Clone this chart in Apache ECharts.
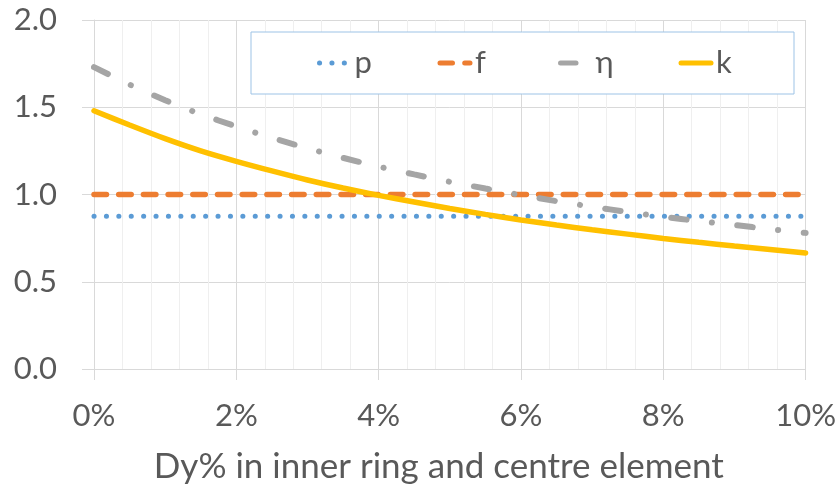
<!DOCTYPE html>
<html>
<head>
<meta charset="utf-8">
<script src="https://cdn.jsdelivr.net/npm/echarts@6/dist/echarts.min.js"></script>
<style>
html,body{margin:0;padding:0;background:#fff;}
#chart{width:839px;height:489px;}
</style>
</head>
<body>
<div id="chart"></div>
<script>
var xValues = [0, 0.005, 0.01, 0.015, 0.02, 0.025, 0.03, 0.035, 0.04, 0.045, 0.05, 0.055, 0.06, 0.065, 0.07, 0.075, 0.08, 0.085, 0.09, 0.095, 0.1];
var pValues = [0.875, 0.875, 0.875, 0.875, 0.875, 0.875, 0.875, 0.875, 0.875, 0.875, 0.875, 0.875, 0.875, 0.875, 0.875, 0.875, 0.875, 0.875, 0.875, 0.875, 0.875];
var fValues = [1, 1, 1, 1, 1, 1, 1, 1, 1, 1, 1, 1, 1, 1, 1, 1, 1, 1, 1, 1, 1];
var etaValues = [1.73, 1.63, 1.54, 1.46, 1.39, 1.325, 1.265, 1.21, 1.16, 1.115, 1.073, 1.034, 0.997, 0.962, 0.93, 0.90, 0.872, 0.848, 0.825, 0.802, 0.78];
var kValues = [1.48, 1.398, 1.32, 1.25, 1.19, 1.135, 1.083, 1.037, 0.995, 0.957, 0.92, 0.886, 0.854, 0.825, 0.798, 0.773, 0.748, 0.726, 0.705, 0.685, 0.665];
var seriesNames = ['p', 'f', 'η', 'k'];
var xTitle = 'Dy% in inner ring and centre element';

function pairs(ys) { return xValues.map(function (x, i) { return [x, ys[i]]; }); }

var FONT = 'Lato';
var TXT = '#595959';
var chart = echarts.init(document.getElementById('chart'), null, {renderer: 'canvas'});
chart.setOption({
  animation: false,
  backgroundColor: '#ffffff',
  grid: {left: 94, right: 33, top: 20, bottom: 114, containLabel: false},
  legend: {
    data: seriesNames,
    left: 251, top: 32,
    padding: [13, 0, 13, 66],
    borderColor: '#9DC3E6', borderWidth: 1, backgroundColor: '#ffffff',
    itemWidth: 30, itemHeight: 10, itemGap: 5,
    itemStyle: {color: 'rgba(0,0,0,0)', borderWidth: 0, opacity: 0},
    lineStyle: {width: 5, cap: 'round'},
    textStyle: {fontFamily: FONT, fontSize: 31, color: TXT, width: 78, lineHeight: 36}
  },
  xAxis: {
    type: 'value', min: 0, max: 0.1, interval: 0.02,
    name: xTitle, nameLocation: 'middle', nameGap: 80,
    nameTextStyle: {fontFamily: FONT, fontSize: 35, color: TXT, padding: [0, 22, 0, 0]},
    axisLine: {show: true, lineStyle: {color: '#D9D9D9', width: 1}},
    axisTick: {show: true, length: 11, lineStyle: {color: '#D9D9D9'}},
    axisLabel: {fontFamily: FONT, fontSize: 31, color: TXT, margin: 31,
      formatter: function (v) { return Math.round(v * 100) + '%'; }},
    splitLine: {show: true, lineStyle: {color: '#D9D9D9', width: 1}},
    minorTick: {show: false, splitNumber: 5},
    minorSplitLine: {show: true, lineStyle: {color: '#EFEFEF', width: 1}}
  },
  yAxis: {
    type: 'value', min: 0, max: 2, interval: 0.5,
    axisLine: {show: true, lineStyle: {color: '#D9D9D9', width: 1}},
    axisTick: {show: true, length: 12, lineStyle: {color: '#D9D9D9'}},
    axisLabel: {fontFamily: FONT, fontSize: 31, color: TXT, margin: 37,
      formatter: function (v) { return v.toFixed(1); }},
    splitLine: {show: true, lineStyle: {color: '#D9D9D9', width: 1}}
  },
  series: [
    {name: 'p', type: 'line', data: pairs(pValues), symbol: 'none', smooth: false,
      lineStyle: {color: '#5B9BD5', width: 5, type: [0.1, 12.3], cap: 'round'},
      itemStyle: {color: '#5B9BD5'}},
    {name: 'f', type: 'line', data: pairs(fValues), symbol: 'none', smooth: false,
      lineStyle: {color: '#ED7D31', width: 5.5, type: [12.5, 12.2], cap: 'round'},
      itemStyle: {color: '#ED7D31'}},
    {name: 'η', type: 'line', data: pairs(etaValues), symbol: 'none', smooth: 0.3,
      lineStyle: {color: '#A5A5A5', width: 6, type: [15.5, 25.5, 0.1, 25.5], cap: 'round'},
      itemStyle: {color: '#A5A5A5'}},
    {name: 'k', type: 'line', data: pairs(kValues), symbol: 'none', smooth: 0.3,
      lineStyle: {color: '#FFC000', width: 5.5, type: 'solid', cap: 'round'},
      itemStyle: {color: '#FFC000'}}
  ]
});
</script>
</body>
</html>
